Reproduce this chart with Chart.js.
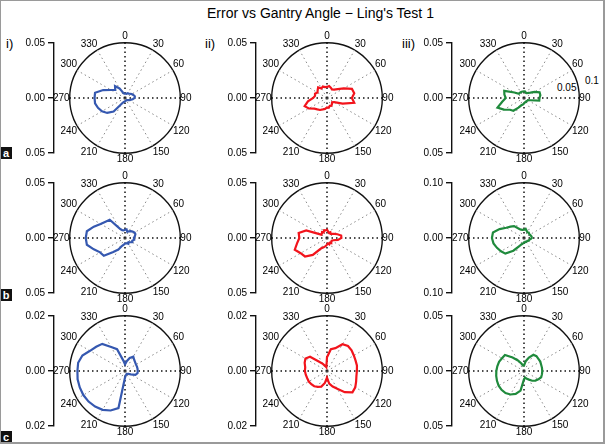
<!DOCTYPE html>
<html>
<head>
<meta charset="utf-8">
<script src="https://cdn.jsdelivr.net/npm/chart.js@4.4.1/dist/chart.umd.min.js"></script>
<style>
  body { margin: 0; background: #fff; }
  #wrap { position: relative; width: 605px; height: 444px; overflow: hidden; background: #fff; }
  #wrap canvas { position: absolute; }
  .txt { position: absolute; font-family: "Liberation Sans", Arial, sans-serif; color: #000; white-space: nowrap; line-height: 1; }
  .tag { position: absolute; left: 0; width: 12px; height: 12px; background: #111; color: #fff;
         font: bold 11px "Liberation Sans", Arial, sans-serif; text-align: center; line-height: 12px; }
  #frame { position: absolute; left: 0; top: 0; width: 605px; height: 444px; box-sizing: border-box;
           border-style: solid; border-color: #9a9a9a; border-width: 1px 2px 2px 1px; pointer-events: none; }
</style>
</head>
<body>
<div id="wrap">
  <div class="txt" style="left:207px;top:6px;font-size:14px;">Error vs Gantry Angle − Ling's Test 1</div>
  <div class="txt" style="left:6px;top:37px;font-size:13px;">i)</div>
  <div class="txt" style="left:205px;top:37px;font-size:13px;">ii)</div>
  <div class="txt" style="left:402px;top:37px;font-size:13px;">iii)</div>
  <div class="txt" style="left:585px;top:76px;font-size:10px;">0.1</div>
  <div class="txt" style="left:557px;top:83px;font-size:10px;">0.05</div>
  <div class="tag" style="top:147px;">a</div>
  <div class="tag" style="top:289px;">b</div>
  <div class="tag" style="top:431px;">c</div>
  <div id="frame"></div>
</div>
<script>
// gantry angle (degrees, clockwise from top)
const angles = [0, 10, 20, 30, 40, 50, 60, 70, 80, 90, 100, 110, 120, 130, 140, 150, 160, 170,
                180, 190, 200, 210, 220, 230, 240, 250, 260, 270, 280, 290, 300, 310, 320, 330, 340, 350];

// row a
const errA1 = [0.004, 0.004, 0.004, 0.005, 0.005, 0.006, 0.007, 0.008, 0.009, 0.0085, 0.007, 0.005,
               0.004, 0.003, 0.0025, 0.0025, 0.0025, 0.0025, 0.003, 0.0035, 0.004, 0.006, 0.016, 0.021,
               0.024, 0.026, 0.0275, 0.0275, 0.0275, 0.021, 0.0145, 0.0115, 0.014, 0.01, 0.005, 0.004];
const errA2 = [0.01, 0.011, 0.01, 0.009, 0.01, 0.0125, 0.0175, 0.024, 0.025, 0.0225, 0.025, 0.015,
               0.0075, 0.006, 0.007, 0.008, 0.0075, 0.009, 0.0085, 0.01, 0.011, 0.0125, 0.0135, 0.015,
               0.019, 0.0215, 0.0175, 0.0125, 0.011, 0.0115, 0.01, 0.011, 0.0125, 0.01, 0.011, 0.01];
const errA3 = [0.006, 0.006, 0.005, 0.005, 0.006, 0.0075, 0.011, 0.015, 0.015, 0.014, 0.014, 0.006,
               0.004, 0.004, 0.0035, 0.004, 0.004, 0.004, 0.005, 0.006, 0.007, 0.01, 0.015, 0.0165,
               0.021, 0.0255, 0.02, 0.0165, 0.018, 0.019, 0.01, 0.006, 0.006, 0.006, 0.006, 0.006];
// row b
const errB1 = [0.0075, 0.008, 0.006, 0.007, 0.008, 0.009, 0.01, 0.01, 0.009, 0.008, 0.0085, 0.007,
               0.0075, 0.006, 0.005, 0.006, 0.005, 0.005, 0.005, 0.006, 0.0075, 0.012, 0.0165, 0.025,
               0.026, 0.03, 0.035, 0.0355, 0.035, 0.03, 0.0255, 0.023, 0.0215, 0.01, 0.0075, 0.007];
const errB2 = [0.0075, 0.006, 0.005, 0.006, 0.005, 0.006, 0.0075, 0.01, 0.013, 0.013, 0.01, 0.006,
               0.005, 0.005, 0.006, 0.005, 0.006, 0.005, 0.006, 0.0075, 0.009, 0.011, 0.02, 0.026,
               0.0275, 0.031, 0.0275, 0.025, 0.026, 0.02, 0.006, 0.006, 0.007, 0.006, 0.0075, 0.007];
const errB3 = [0.015, 0.017, 0.014, 0.012, 0.013, 0.012, 0.012, 0.013, 0.014, 0.014, 0.012, 0.01,
               0.01, 0.008, 0.008, 0.008, 0.007, 0.008, 0.008, 0.01, 0.012, 0.017, 0.03, 0.044,
               0.048, 0.052, 0.056, 0.058, 0.057, 0.047, 0.037, 0.032, 0.028, 0.02, 0.016, 0.015];
// row c
const errC1 = [0.0024, 0.0036, 0.005, 0.006, 0.0052, 0.0048, 0.0046, 0.0046, 0.0046, 0.0046, 0.0046, 0.004,
               0.0024, 0.0016, 0.0014, 0.0012, 0.0014, 0.0016, 0.0024, 0.0136, 0.0152, 0.0162, 0.0168, 0.0172,
               0.0174, 0.0174, 0.0174, 0.0172, 0.0172, 0.0164, 0.0146, 0.0136, 0.0128, 0.01, 0.0084, 0.004];
const errC2 = [0.005, 0.008, 0.0088, 0.0112, 0.0118, 0.0116, 0.0112, 0.011, 0.011, 0.0108, 0.0108, 0.0112,
               0.0118, 0.012, 0.01, 0.0074, 0.006, 0.0046, 0.0024, 0.0044, 0.006, 0.0066, 0.0072, 0.0074,
               0.0076, 0.0076, 0.0078, 0.008, 0.008, 0.0086, 0.009, 0.008, 0.0044, 0.003, 0.002, 0.0014];
const errC3 = [0.005, 0.009, 0.013, 0.017, 0.0175, 0.017, 0.017, 0.0165, 0.0165, 0.0165, 0.0165, 0.0165,
               0.015, 0.0135, 0.0115, 0.009, 0.0075, 0.006, 0.0075, 0.018, 0.022, 0.0245, 0.026, 0.0265,
               0.0265, 0.026, 0.0255, 0.025, 0.0245, 0.024, 0.023, 0.0225, 0.016, 0.011, 0.0075, 0.005];

// scale (outer circle / bar end) per panel
const rangeA = [0.05, 0.05, 0.05];
const rangeB = [0.05, 0.05, 0.10];
const rangeC = [0.02, 0.02, 0.05];

const FONT = '"Liberation Sans", Arial, sans-serif';
const colours = ['#3558b0', '#f2141c', '#1f8a3c'];
const colX = [125, 327, 524];
const barX = [54, 256, 452];
const rowY = [98, 238, 371];

const rows = [
  { series: [errA1, errA2, errA3], range: rangeA },
  { series: [errB1, errB2, errB3], range: rangeB },
  { series: [errC1, errC2, errC3], range: rangeC }
];

const wrap = document.getElementById('wrap');
const frame = document.getElementById('frame');

function addCanvas(w, h) {
  const cv = document.createElement('canvas');
  cv.width = w;
  cv.height = h;
  cv.style.width = w + 'px';
  cv.style.height = h + 'px';
  wrap.insertBefore(cv, frame);
  return cv;
}

function polarPanel(values, colour, max, cx, cy) {
  const cv = addCanvas(144, 144);
  const chart = new Chart(cv, {
    type: 'radar',
    data: {
      labels: angles,
      datasets: [{
        data: values,
        borderColor: colour,
        borderWidth: 2.2,
        pointRadius: 0,
        fill: false,
        tension: 0
      }]
    },
    options: {
      responsive: false,
      animation: false,
      devicePixelRatio: 1,
      plugins: { legend: { display: false }, tooltip: { enabled: false } },
      layout: { padding: 0 },
      scales: {
        r: {
          min: 0,
          max: max,
          ticks: { display: false, stepSize: max },
          grid: { circular: true, color: '#111', lineWidth: 1.4 },
          angleLines: {
            color: c => c.index % 9 === 0 ? '#111' : '#888',
            lineWidth: c => c.index % 9 === 0 ? 1.5 : (c.index % 3 === 0 ? 1 : 0),
            borderDash: [1.5, 3]
          },
          pointLabels: {
            padding: 0,
            color: '#000',
            font: { family: FONT, size: 10 },
            callback: (l, i) => i % 3 === 0 ? String(l) : ''
          }
        }
      }
    }
  });
  const s = chart.scales.r;
  cv.style.left = (cx - s.xCenter) + 'px';
  cv.style.top = (cy - s.yCenter) + 'px';
  return chart;
}

function scaleBar(max, bx, cy) {
  const cv = addCanvas(56, 130);
  const chart = new Chart(cv, {
    type: 'scatter',
    data: { datasets: [] },
    options: {
      responsive: false,
      animation: false,
      devicePixelRatio: 1,
      plugins: { legend: { display: false }, tooltip: { enabled: false } },
      layout: { padding: { top: 10, bottom: 10, left: 0, right: 0 } },
      scales: {
        x: { display: false },
        y: {
          min: -max,
          max: max,
          afterFit: sc => { sc.width = 52; },
          ticks: {
            stepSize: max,
            color: '#000',
            padding: 3,
            font: { family: FONT, size: 10 },
            callback: v => Math.abs(v).toFixed(2)
          },
          grid: { drawOnChartArea: false, tickLength: 6, color: '#111', lineWidth: 1.4 },
          border: { color: '#111', width: 1.4 }
        }
      }
    }
  });
  const y = chart.scales.y;
  cv.style.left = (bx - y.right) + 'px';
  cv.style.top = (cy - y.getPixelForValue(0)) + 'px';
  return chart;
}

rows.forEach((row, r) => {
  row.series.forEach((vals, c) => {
    scaleBar(row.range[c], barX[c], rowY[r]);
    polarPanel(vals, colours[c], row.range[c], colX[c], rowY[r]);
  });
});
</script>
</body>
</html>
